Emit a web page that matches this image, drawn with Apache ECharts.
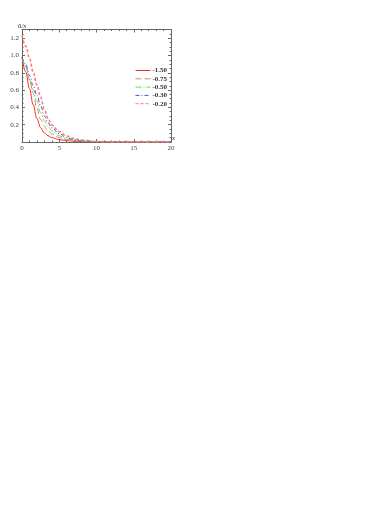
<!DOCTYPE html>
<html><head><meta charset="utf-8">
<script src="https://cdn.jsdelivr.net/npm/echarts@6/dist/echarts.min.js"></script>
<style>html,body{margin:0;padding:0;background:#fff}#c{width:374px;height:528px}</style>
</head><body><div id="c"></div>
<script>
var xs = [0, 0.5, 1, 1.5, 2, 2.5, 3, 3.5, 4, 5, 6, 7, 8, 10, 12, 15, 20];
var seriesNames = ['-1.50', '-0.75', '-0.50', '-0.30', '-0.20'];
var yA = [0.98, 0.81, 0.62, 0.43, 0.27, 0.165, 0.105, 0.072, 0.050, 0.028, 0.016, 0.009, 0.005, 0.002, 0.001, 0.0, 0.0];
var yB = [0.98, 0.87, 0.72, 0.56, 0.39, 0.26, 0.180, 0.130, 0.095, 0.050, 0.027, 0.015, 0.008, 0.003, 0.001, 0.0, 0.0];
var yC = [0.98, 0.88, 0.72, 0.60, 0.47, 0.34, 0.245, 0.180, 0.130, 0.070, 0.038, 0.020, 0.011, 0.004, 0.001, 0.0, 0.0];
var yD = [0.98, 0.90, 0.77, 0.65, 0.54, 0.42, 0.300, 0.220, 0.165, 0.095, 0.050, 0.027, 0.014, 0.005, 0.002, 0.0, 0.0];
var yE = [1.23, 1.11, 0.97, 0.81, 0.66, 0.52, 0.380, 0.270, 0.195, 0.120, 0.070, 0.040, 0.022, 0.007, 0.002, 0.0, 0.0];
var xTicks = [0, 5, 10, 15, 20];
var yTicks = [0.2, 0.4, 0.6, 0.8, 1.0, 1.2];

var allY = [yA, yB, yC, yD, yE];
var colors = ['#ff2a2a', '#d98a70', '#5ae648', '#4a4aee', '#ff7a7a'];
var dashes = ['solid', [6, 3], [6, 2, 1, 2], [4, 2, 1, 2], [3, 2]];
var widths = [1, 1, 1, 1, 1.6];
var FONT = 'Liberation Serif';

function pairs(ys) { return xs.map(function (x, i) { return [x, ys[i]]; }); }

var series = allY.map(function (ys, k) {
  return {
    name: seriesNames[k], type: 'line', data: pairs(ys), showSymbol: false, symbol: 'none',
    smooth: 0.4, smoothMonotone: 'x', xAxisIndex: 0, yAxisIndex: 0,
    lineStyle: { color: colors[k], width: widths[k], type: dashes[k] },
    itemStyle: { color: colors[k] }, z: 2 + k, animation: false
  };
});

function axisCommon() {
  return {
    axisLine: { show: true, onZero: false, lineStyle: { color: '#666', width: 1 } },
    axisTick: { show: true, inside: true, length: 3, lineStyle: { color: '#666' } },
    minorTick: { show: true, splitNumber: 5, length: 1.5, lineStyle: { color: '#666' } },
    splitLine: { show: false }
  };
}

var chart = echarts.init(document.getElementById('c'), null, { renderer: 'canvas' });
chart.setOption({
  animation: false,
  backgroundColor: '#fff',
  grid: { left: 22, top: 29.5, width: 149, height: 112.5, containLabel: false },
  legend: {
    data: seriesNames, orient: 'vertical', left: 135, top: 67, itemWidth: 15, itemHeight: 6,
    itemGap: 1.3, itemStyle: { opacity: 0 }, lineStyle: { width: 1 },
    textStyle: { fontFamily: FONT, fontSize: 7, color: '#333', fontWeight: 'bold', padding: [0, 0, 0, -3] },
    padding: 0
  },
  xAxis: [
    Object.assign(axisCommon(), {
      type: 'value', min: 0, max: 20, interval: 5, position: 'bottom',
      axisLabel: { show: true, fontFamily: FONT, fontSize: 7, color: '#444', margin: 3,
        formatter: function (v) { return xTicks.indexOf(v) >= 0 ? String(v) : ''; } },
      name: 'x', nameLocation: 'end', nameGap: 1,
      nameTextStyle: { fontFamily: FONT, fontSize: 7, fontStyle: 'italic', color: '#333', verticalAlign: 'bottom' }
    }),
    Object.assign(axisCommon(), {
      type: 'value', min: 0, max: 20, interval: 5, position: 'top', axisLabel: { show: false }
    })
  ],
  yAxis: [
    Object.assign(axisCommon(), {
      type: 'value', min: 0, max: 1.3, interval: 0.2, position: 'left',
      minorTick: { show: true, splitNumber: 4, length: 1.5, lineStyle: { color: '#666' } },
      axisLabel: { show: true, fontFamily: FONT, fontSize: 7, color: '#444', margin: 3,
        showMinLabel: false, showMaxLabel: false,
        formatter: function (v) {
          var ok = yTicks.some(function (t) { return Math.abs(t - v) < 1e-6; });
          return ok ? v.toFixed(1) : '';
        } },
      name: 'ū/x', nameLocation: 'end', nameGap: 0,
      nameTextStyle: { fontFamily: FONT, fontSize: 7, fontStyle: 'italic', color: '#333', align: 'center' }
    }),
    Object.assign(axisCommon(), {
      type: 'value', min: 0, max: 1.3, interval: 0.2, position: 'right',
      minorTick: { show: true, splitNumber: 4, length: 1.5, lineStyle: { color: '#666' } },
      axisLabel: { show: false }
    })
  ],
  series: series
});
</script></body></html>
